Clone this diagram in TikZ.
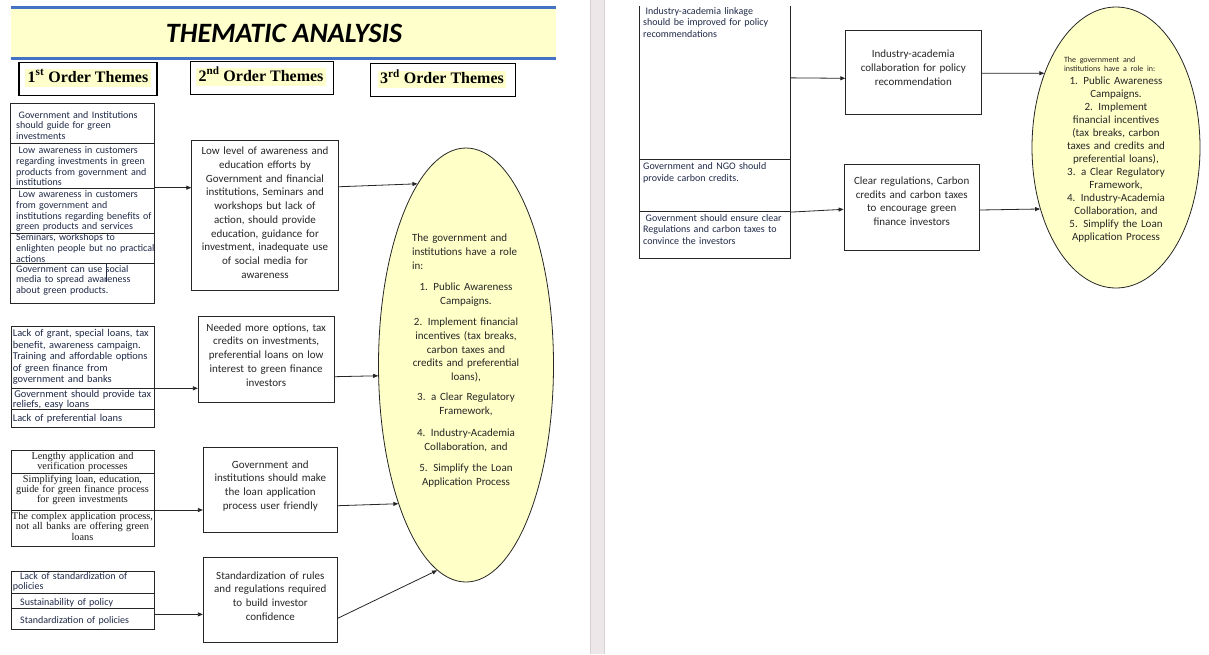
\documentclass[tikz,border=0pt]{standalone}
\usepackage{fontspec}
\setmainfont{Carlito}
\newfontfamily\timesface{Liberation Serif}
\usetikzlibrary{shapes.geometric,arrows.meta}

\definecolor{bandfill}{HTML}{FFFFCC}
\definecolor{hilite}{HTML}{FFFFCC}
\definecolor{ovalfill}{HTML}{FFFFC8}
\definecolor{ruleblue}{HTML}{4472C4}
\definecolor{celltext}{HTML}{1F2A48}
\definecolor{boxtext}{HTML}{262626}
\definecolor{gutter}{HTML}{EEE7EA}
\definecolor{gutteredge}{HTML}{D6D1D3}

\newcommand\lead{\hspace*{2.5pt}}
\newcommand\indnt{\hspace*{7.3pt}}

\begin{document}
\begin{tikzpicture}[x=1pt,y=-1pt,
  cell/.style={draw=black!85, line width=0.8pt, anchor=north west, inner sep=0pt, minimum width=#1},
  cell/.default=144pt,
  celltxt/.style={anchor=base west, inner sep=0pt, text width=150pt, align=left, text=celltext},
  serifcell/.style={anchor=base, inner sep=0pt, text width=142pt, align=center, text=black!90,
    font=\timesface\fontsize{10.3}{10.3}\selectfont},
  sbox/.style={draw=black!85, line width=0.8pt, inner sep=0pt},
  stext/.style={anchor=base, inner sep=0pt, text width=140pt, align=center, text=boxtext,
    font=\fontsize{11}{13.7}\selectfont},
  hdrbox/.style={draw=black, line width=1.1pt, inner sep=0pt},
  hdrtext/.style={anchor=base, fill=hilite, inner xsep=2.5pt, inner ysep=0pt,
    text height=13pt, text depth=4.5pt, font=\timesface\bfseries\fontsize{16}{19}\selectfont},
  oval/.style={ellipse, draw=black!85, line width=0.8pt, fill=ovalfill, inner sep=0pt},
  conn/.style={draw=black!85, line width=0.8pt, -{Triangle[length=5pt,width=4pt]}}
]
\useasboundingbox (0,0) rectangle (1209,654);
\fill[white] (0,0) rectangle (1209,654);

% gutter between the two pages
\fill[gutter] (590,0) rectangle (605,654);
\draw[gutteredge, line width=1pt] (590.5,0) -- (590.5,654) (604.5,0) -- (604.5,654);

% title band
\fill[bandfill] (10.7,7.5) rectangle (556,58.5);
\draw[ruleblue, line width=2.2pt] (10.7,7.5) -- (556,7.5) (10.7,58.5) -- (556,58.5);
\node[anchor=base, inner sep=0pt, font=\bfseries\itshape\fontsize{28}{30}\selectfont] (title) at (284,42.5) {THEMATIC ANALYSIS};

% column headers
\node[hdrbox, minimum width=138pt, minimum height=33.4pt] (h1) at (88,79) {};
\node[hdrtext] (h1t) at (88,82) {1\textsuperscript{st} Order Themes};
\node[hdrbox, minimum width=143.1pt, minimum height=32.6pt] (h2) at (262.2,78) {};
\node[hdrtext] (h2t) at (261,81) {2\textsuperscript{nd} Order Themes};
\node[hdrbox, minimum width=144.5pt, minimum height=33.4pt] (h3) at (442.8,80) {};
\node[hdrtext] (h3t) at (442,83.5) {3\textsuperscript{rd} Order Themes};

% ---------- first order themes, group 1 ----------
\node[cell, minimum height=39.4pt] (g1a) at (10,103.3) {};
\node[cell, minimum height=45pt] (g1b) at (10,142.7) {};
\node[cell, minimum height=45pt] (g1c) at (10,187.7) {};
\node[cell, minimum height=30.6pt] (g1d) at (10,232.7) {};
\node[cell, minimum height=40pt] (g1e) at (10,263.3) {};
\begin{scope}[every node/.append style={font=\fontsize{10}{10.8}\selectfont}]
\node[celltxt] (g1at) at (16,118) {\lead Government and Institutions\\should guide for green\\investments};
\node[celltxt] (g1bt) at (16,153.5) {\lead Low awareness in customers\\regarding investments in green\\products from government and\\institutions};
\node[celltxt] (g1ct) at (16,197.5) {\lead Low awareness in customers\\from government and\\institutions regarding benefits of\\green products and services};
\node[celltxt] (g1dt) at (16,240.8) {Seminars, workshops to\\enlighten people but no practical\\actions};
\node[celltxt] (g1et) at (16,272) {Government can use \smash{\rlap{\rule[-9.7pt]{0.6pt}{18.4pt}}}social\\media to spread awareness\\about green products.};
\end{scope}

% ---------- group 2 ----------
\node[cell=143pt, minimum height=62.6pt] (g2a) at (11,325.7) {};
\node[cell=143pt, minimum height=21pt] (g2b) at (11,388.3) {};
\node[cell=143pt, minimum height=18pt] (g2c) at (11,409.3) {};
\node[celltxt, font=\fontsize{10.4}{11.5}\selectfont] (g2at) at (12.7,336.5) {Lack of grant, special loans, tax\\benefit, awareness campaign.\\Training and affordable options\\of green finance from\\government and banks};
\node[celltxt, font=\fontsize{10.4}{10}\selectfont] (g2bt) at (12.7,397.5) {\hspace*{1.5pt}Government should provide tax\\reliefs, easy loans};
\node[celltxt, font=\fontsize{10.4}{10}\selectfont] (g2ct) at (12.7,421.3) {Lack of preferential loans};

% ---------- group 3 ----------
\node[cell=143pt, minimum height=23.3pt] (g3a) at (11,450) {};
\node[cell=143pt, minimum height=36.7pt] (g3b) at (11,473.3) {};
\node[cell=143pt, minimum height=36pt] (g3c) at (11,510) {};
\node[serifcell] (g3at) at (82.5,459.3) {Lengthy application and\\verification processes};
\node[serifcell] (g3bt) at (82.5,482) {Simplifying loan, education,\\guide for green finance process\\for green investments};
\node[serifcell] (g3ct) at (82.5,519.5) {The complex application process,\\not all banks are offering green\\loans};

% ---------- group 4 ----------
\node[cell=143pt, minimum height=21.7pt] (g4a) at (11,571) {};
\node[cell=143pt, minimum height=15pt] (g4b) at (11,592.7) {};
\node[cell=143pt, minimum height=21.6pt] (g4c) at (11,607.7) {};
\begin{scope}[every node/.append style={font=\fontsize{10}{9.8}\selectfont}]
\node[celltxt] (g4at) at (12.7,579.5) {\indnt Lack of standardization of\\policies};
\node[celltxt] (g4bt) at (12.7,605) {\indnt Sustainability of policy};
\node[celltxt] (g4ct) at (12.7,623.3) {\indnt Standardization of policies};
\end{scope}

% ---------- second order themes ----------
\node[sbox, minimum width=146.6pt, minimum height=150.7pt] (s1) at (265,215.35) {};
\node[stext] (s1t) at (265,154.8) {Low level of awareness and\\education efforts by\\Government and financial\\institutions, Seminars and\\workshops but lack of\\action, should provide\\education, guidance for\\investment, inadequate use\\of social media for\\awareness};
\node[sbox, minimum width=135.7pt, minimum height=85.6pt] (s2) at (266.15,359.5) {};
\node[stext] (s2t) at (266.2,331.2) {Needed more options, tax\\credits on investments,\\preferential loans on low\\interest to green finance\\investors};
\node[sbox, minimum width=134pt, minimum height=85.4pt] (s3) at (270.3,490) {};
\node[stext] (s3t) at (270.3,468) {Government and\\institutions should make\\the loan application\\process user friendly};
\node[sbox, minimum width=134pt, minimum height=85.4pt] (s4) at (270.3,600) {};
\node[stext] (s4t) at (270.3,579) {Standardization of rules\\and regulations required\\to build investor\\confidence};

% ---------- third order theme ----------
\node[oval, minimum width=175pt, minimum height=434pt] (E) at (466,365) {};
\node[anchor=base, inner sep=0pt, text width=108pt, text=boxtext, font=\fontsize{11}{13.7}\selectfont] (Et) at (466,241.6)
 {{\raggedright The government and\\institutions have a role\\in:\par}\vspace{7.6pt}%
  {\centering 1. Public Awareness\\Campaigns.\\[8pt]2. Implement financial\\incentives (tax breaks,\\carbon taxes and\\credits and preferential\\loans),\\[6.3pt]3. a Clear Regulatory\\Framework,\\[8.6pt]4. Industry-Academia\\Collaboration, and\\[8pt]5. Simplify the Loan\\Application Process\par}};

% connectors, left page
\draw[conn] (g1c.north east) -- (g1c.north east -| s1.west);
\draw[conn] (g2b.north east) -- (g2b.north east -| s2.west);
\draw[conn] (g3c.north east) -- (g3c.north east -| s3.west);
\coordinate (g4out) at ([yshift=4.5pt]g4c.east);
\draw[conn] (g4out) -- (g4out -| s4.west);
\draw[conn] ([yshift=28.6pt]s1.east) -- (E.105.7);
\draw[conn] ([yshift=-17.2pt]s2.east) -- (E.187.6);
\draw[conn] ([yshift=-15.7pt]s3.east) -- (E.244.5);
\draw[conn] ([yshift=-18.3pt]s4.east) -- (E.262.9);

% ---------- right page ----------
\node[anchor=north west, inner sep=0pt, minimum width=150.7pt, minimum height=153.3pt] (rA) at (639.3,6) {};
\draw[draw=black!85, line width=0.8pt] (rA.north west) -- (rA.south west) (rA.north east) -- (rA.south east);
\node[cell=150.7pt, minimum height=51.4pt] (rB) at (639.3,159.3) {};
\node[cell=150.7pt, minimum height=47.6pt] (rC) at (639.3,210.7) {};
\begin{scope}[every node/.append style={font=\fontsize{10}{11.5}\selectfont}]
\node[celltxt] (rAt) at (643,14) {\lead Industry-academia linkage\\should be improved for policy\\recommendations};
\node[celltxt] (rBt) at (643,169.8) {Government and NGO should\\provide carbon credits.};
\node[celltxt] (rCt) at (643,221.2) {\lead Government should ensure clear\\Regulations and carbon taxes to\\convince the investors};
\end{scope}

\node[sbox, minimum width=135.3pt, minimum height=84pt] (s5) at (913.35,72) {};
\node[stext] (s5t) at (913.3,57.6) {Industry-academia\\collaboration for policy\\recommendation};
\node[sbox, minimum width=135.3pt, minimum height=86pt] (s6) at (911.65,207) {};
\node[stext] (s6t) at (911.7,184.3) {Clear regulations, Carbon\\credits and carbon taxes\\to encourage green\\finance investors};

\node[oval, minimum width=168pt, minimum height=281pt] (R) at (1116,147.5) {};
\node[anchor=base, inner sep=0pt, text width=104pt, text=boxtext, font=\fontsize{11}{13}\selectfont] (Rt) at (1116,62)
 {{\fontsize{8}{9.2}\selectfont\raggedright The government and\\institutions have a role in:\par}%
  {\centering 1. Public Awareness\\Campaigns.\\2. Implement\\financial incentives\\(tax breaks, carbon\\taxes and credits and\\preferential loans),\\3. a Clear Regulatory\\Framework,\\4. Industry-Academia\\Collaboration, and\\5. Simplify the Loan\\Application Process\par}};

\draw[conn] ([yshift=5pt]rA.east) -- ([yshift=-6.3pt]s5.west);
\draw[conn] ([yshift=22.8pt]rC.east) -- ([yshift=-2.3pt]s6.west);
\draw[conn] ([yshift=-1.3pt]s5.east) -- (R.134.8);
\draw[conn] ([yshift=-3pt]s6.east) -- (R.219.7);
\end{tikzpicture}
\end{document}
